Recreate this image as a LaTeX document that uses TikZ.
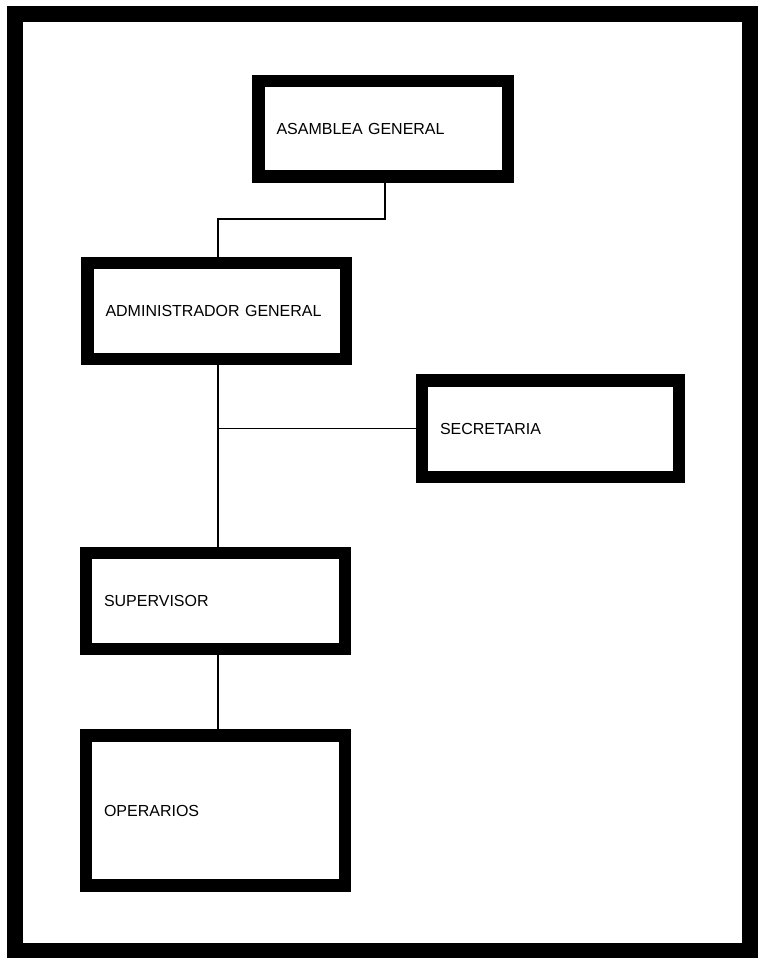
\documentclass[tikz,border=0pt]{standalone}
\usepackage{fontspec}
\setmainfont{Liberation Sans}
\begin{document}
\begin{tikzpicture}[x=1pt,y=-1pt,
  orgbox/.style={draw=black, line width=12.5pt, fill=white, rectangle,
    inner xsep=18pt, inner ysep=0pt, align=left, font=\fontsize{16}{19}\selectfont},
  conn/.style={draw=black, line width=1.4pt}]
\useasboundingbox (0,0) rectangle (758,958);
\draw[line width=16pt] (15,14) rectangle (750,950.5);
% boxes: centre, text width = width-36, height
\node[orgbox, text width=213.5pt, minimum height=95.5pt] (asm) at (383.25,128.75) {ASAMBLEA GENERAL};
\node[orgbox, text width=222.5pt, minimum height=96pt] (adm) at (216.75,311) {ADMINISTRADOR GENERAL};
\node[orgbox, text width=221pt, minimum height=96.5pt] (sec) at (550.5,428.5) {SECRETARIA};
\node[orgbox, text width=223pt, minimum height=96pt] (sup) at (215.5,601) {SUPERVISOR};
\node[orgbox, text width=223pt, minimum height=150pt] (ope) at (215.5,810.5) {OPERARIOS};
\coordinate (j1) at (218,219);
\coordinate (j2) at (218,428.5);
\draw[conn] ([xshift=1.75pt]asm.south) |- (j1) -- (j1 |- adm.north);
\draw[conn] (j1 |- adm.south) -- (j1 |- sup.north);
\draw[conn] (j2) -- (sec.west);
\draw[conn] (j1 |- sup.south) -- (j1 |- ope.north);
\end{tikzpicture}
\end{document}
